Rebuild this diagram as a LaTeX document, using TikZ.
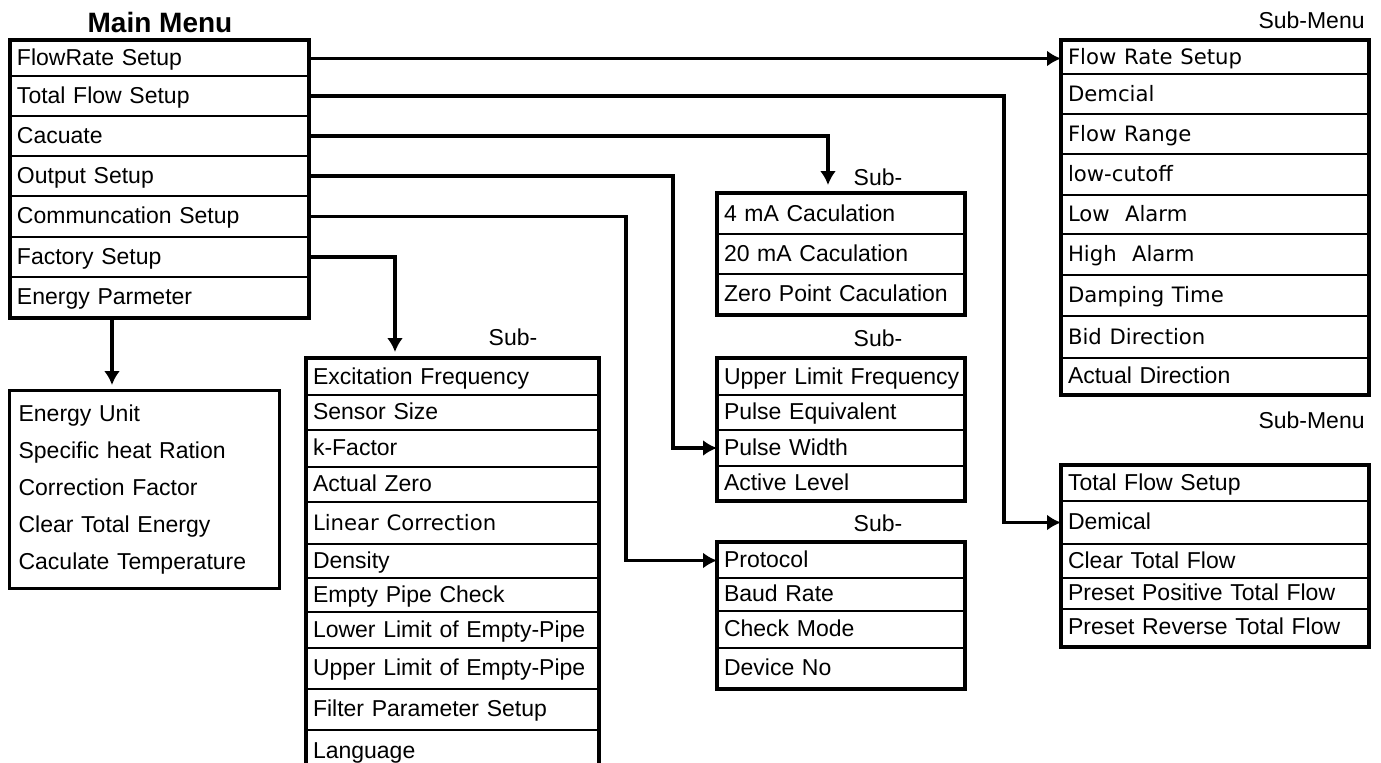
\documentclass[tikz,border=0pt]{standalone}
\usepackage{fontspec}
\setmainfont{Liberation Sans}
\newfontfamily\wide{DejaVu Sans}
\usetikzlibrary{calc,arrows.meta}

\newcommand{\dvfont}{\wide\fontsize{10.6}{13}\selectfont}

\tikzset{
  item/.style={draw, line width=1pt, anchor=north west, inner xsep=3pt, inner ysep=0pt,
               text height=9pt, text depth=2pt, align=left, font=\fontsize{11.5}{13}\selectfont},
  frame/.style={draw, line width=1.6pt},
  conn/.style={line width=1.7pt, -{Latex[length=7pt,width=8pt]}},
  label/.style={font=\fontsize{11.5}{13}\selectfont, inner sep=0pt}
}

\begin{document}
\begin{tikzpicture}[x=0.5pt,y=-0.5pt]
  \useasboundingbox (0,0) rectangle (1381,762);

  %% Main menu column
  \node[label, font=\bfseries\fontsize{14}{16}\selectfont] (MAIN) at (160,22) {Main Menu};
  \foreach \nm/\ya/\yb/\txt in {FR/40/75/FlowRate Setup, TF/75/115/Total Flow Setup,
      CA/115/155/Cacuate, OS/155/195/Output Setup, CS/195/236/Communcation Setup,
      FS/236/276/Factory Setup, EP/276/316/Energy Parmeter}
  {
    \node[item, text width=142.5pt, minimum height={(\yb-\ya)*0.5pt}] (\nm) at (10,\ya) {\mbox{\txt}};
  }
  \draw[frame] (FR.north west) rectangle (EP.south east);

  %% Flow rate sub-menu
  \node[label, anchor=east] (SUBF) at (1365,20) {Sub-Menu};
  \foreach \nm/\ya/\yb/\txt in {F1/40/73/\dvfont Flow Rate Setup, F2/73/113/\dvfont Demcial,
      F3/113/153/\dvfont Flow Range, F4/153/194/\dvfont low-cutoff, F5/194/233/\dvfont Low~~Alarm,
      F6/233/274/\dvfont High~~Alarm, F7/274/315/\dvfont Damping Time, F8/315/357/\dvfont Bid Direction,
      F9/357/393/Actual Direction}
  {
    \node[item, text width=147pt, minimum height={(\yb-\ya)*0.5pt}] (\nm) at (1061,\ya) {\mbox{\txt}};
  }
  \draw[frame] (F1.north west) rectangle (F9.south east);

  %% Total flow sub-menu
  \node[label, anchor=east] (SUBT) at (1365,420) {Sub-Menu};
  \foreach \nm/\ya/\yb/\txt in {T1/465/500/Total Flow Setup, T2/500/543/Demical,
      T3/543/577/Clear Total Flow, T4/577/608/Preset Positive Total Flow,
      T5/608/645/Preset Reverse Total Flow}
  {
    \node[item, text width=147pt, minimum height={(\yb-\ya)*0.5pt}] (\nm) at (1061,\ya) {\mbox{\txt}};
  }
  \draw[frame] (T1.north west) rectangle (T5.south east);

  %% Calculation sub-menu
  \node[label] (SUBA) at (878,177) {Sub-};
  \foreach \nm/\ya/\yb/\txt in {A1/193/233/4 mA Caculation, A2/233/273/20 mA Caculation,
      A3/273/313/Zero Point Caculation}
  {
    \node[item, text width=117pt, minimum height={(\yb-\ya)*0.5pt}] (\nm) at (717,\ya) {\mbox{\txt}};
  }
  \draw[frame] (A1.north west) rectangle (A3.south east);

  %% Output sub-menu
  \node[label] (SUBB) at (878,338) {Sub-};
  \foreach \nm/\ya/\yb/\txt in {B1/358/394/Upper Limit Frequency, B2/394/429/Pulse Equivalent,
      B3/429/465/Pulse Width, B4/465/499/Active Level}
  {
    \node[item, text width=117pt, minimum height={(\yb-\ya)*0.5pt}] (\nm) at (717,\ya) {\mbox{\txt}};
  }
  \draw[frame] (B1.north west) rectangle (B4.south east);

  %% Communication sub-menu
  \node[label] (SUBC) at (878,523) {Sub-};
  \foreach \nm/\ya/\yb/\txt in {C1/542/577/Protocol, C2/577/610/Baud Rate,
      C3/610/647/Check Mode, C4/647/687/Device No}
  {
    \node[item, text width=117pt, minimum height={(\yb-\ya)*0.5pt}] (\nm) at (717,\ya) {\mbox{\txt}};
  }
  \draw[frame] (C1.north west) rectangle (C4.south east);

  %% Factory sub-menu (runs off the bottom)
  \node[label] (SUBX) at (513,337) {Sub-};
  \foreach \nm/\ya/\yb/\txt in {X1/358/394/Excitation Frequency, X2/394/429/Sensor Size,
      X3/429/466/k-Factor, X4/466/501/Actual Zero, X5/501/543/\dvfont Linear Correction,
      X6/543/577/Density, X7/577/611/Empty Pipe Check, X8/611/647/Lower Limit of Empty-Pipe,
      X9/647/688/Upper Limit of Empty-Pipe, X10/688/729/Filter Parameter Setup,
      X11/729/772/Language}
  {
    \node[item, text width=139.5pt, minimum height={(\yb-\ya)*0.5pt}] (\nm) at (306,\ya) {\mbox{\txt}};
  }
  \draw[frame] (X1.north west) rectangle (X11.south east);

  %% Energy box
  \node[frame, anchor=north west, minimum width=135pt, minimum height=99pt, text width=126pt,
        inner xsep=4.5pt, align=left, font=\fontsize{11.5}{18.5}\selectfont] (EB) at (8,389)
       {Energy Unit\\Specific heat Ration\\Correction Factor\\Clear Total Energy\\Caculate Temperature};

  %% Connectors
  \coordinate (TFx) at (1004,0);
  \coordinate (CAx) at (828,0);
  \coordinate (OSx) at (673,0);
  \coordinate (CSx) at (626,0);
  \coordinate (FSx) at (395,0);
  \coordinate (EPx) at (112,0);
  \draw[conn] (FR.east) -- (FR.east -| F1.west);
  \draw[conn] (TF.east) -| (TFx |- T2.west) -- (T2.west);
  \draw[conn, shorten >=4pt] (CA.east) -| (CAx |- A1.north);
  \draw[conn] (OS.east) -| (OSx |- B3.west) -- (B3.west);
  \draw[conn] (CS.east) -| (CSx |- C1.west) -- (C1.west);
  \draw[conn, shorten >=3pt] (FS.east) -| (FSx |- X1.north);
  \draw[conn, shorten >=2pt] (EPx |- EP.south) -- (EPx |- EB.north);
\end{tikzpicture}
\end{document}
